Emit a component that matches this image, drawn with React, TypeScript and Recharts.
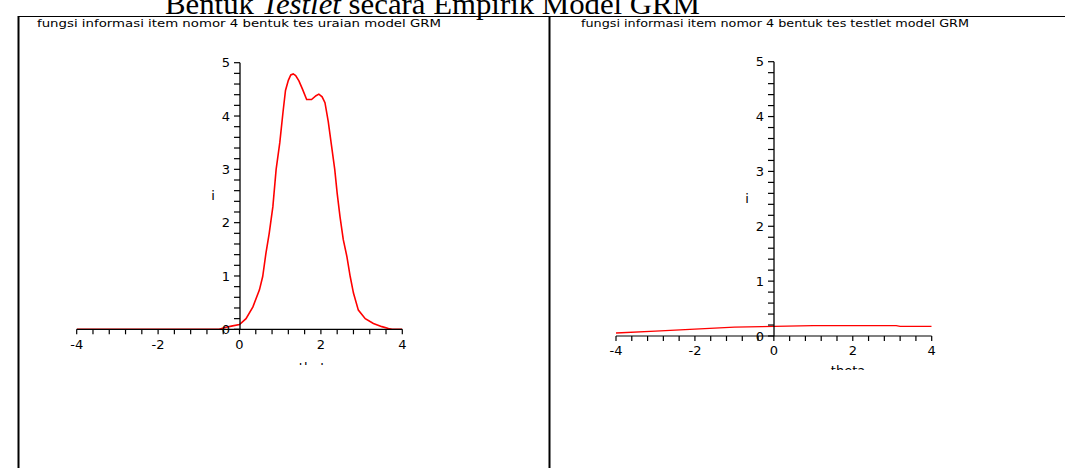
import React from 'react';
import { LineChart, Line, XAxis, YAxis } from 'recharts';

// ---- data ----
const thetaUraian = [-4, -0.5, -0.33, -0.2, 0, 0.16, 0.33, 0.49, 0.57, 0.65, 0.73, 0.82, 0.9, 0.99, 1.07, 1.13, 1.2, 1.26, 1.32, 1.38, 1.46, 1.55, 1.65, 1.77, 1.88, 1.95, 2.03, 2.1, 2.18, 2.26, 2.34, 2.4, 2.47, 2.55, 2.64, 2.72, 2.8, 2.92, 3.09, 3.29, 3.5, 3.66, 3.75, 4];
const infoUraian = [0, 0, 0.04, 0.06, 0.09, 0.2, 0.42, 0.74, 0.99, 1.43, 1.8, 2.3, 3.0, 3.5, 4.08, 4.48, 4.67, 4.77, 4.79, 4.76, 4.66, 4.5, 4.31, 4.31, 4.38, 4.41, 4.36, 4.25, 3.9, 3.45, 3.0, 2.55, 2.11, 1.68, 1.36, 0.99, 0.68, 0.36, 0.2, 0.11, 0.05, 0.015, 0, 0];

const thetaTestlet = [-4, -3, -2, -1, -0.3, 0, 1, 2, 3.1, 3.2, 4];
const infoTestlet = [0.055, 0.09, 0.125, 0.16, 0.17, 0.175, 0.19, 0.19, 0.19, 0.175, 0.175];

const xTicks = [-4, -3.6, -3.2, -2.8, -2.4, -2, -1.6, -1.2, -0.8, -0.4, 0, 0.4, 0.8, 1.2, 1.6, 2, 2.4, 2.8, 3.2, 3.6, 4];
const yTicks = [0, 0.2, 0.4, 0.6, 0.8, 1, 1.2, 1.4, 1.6, 1.8, 2, 2.2, 2.4, 2.6, 2.8, 3, 3.2, 3.4, 3.6, 3.8, 4, 4.2, 4.4, 4.6, 4.8, 5];
const xTickLabels = [-4, -2, 0, 2, 4];
const yTickLabels = [0, 1, 2, 3, 4, 5];

const pageTitleParts = ['Bentuk ', 'Testlet', ' secara Empirik Model GRM'];
const panelTitles = [
  'fungsi informasi item nomor 4 bentuk tes uraian model GRM',
  'fungsi informasi item nomor 4 bentuk tes testlet model GRM',
];
const xAxisLabel = 'theta';
const yAxisLabel = 'i';

const toRows = (xs: number[], ys: number[]) => xs.map((x, i) => ({ theta: x, info: ys[i] }));

const FONT = '"DejaVu Sans", Verdana, sans-serif';

const fmtX = (v: number) => (xTickLabels.some((t) => Math.abs(t - v) < 1e-6) ? String(Math.round(v)) : '');
const fmtY = (v: number) => (yTickLabels.some((t) => Math.abs(t - v) < 1e-6) ? String(Math.round(v)) : '');

type PanelProps = {
  svgLeft: number;
  width: number;
  height: number;
  plotLeft: number;
  plotRight: number;
  plotTop: number;
  plotBottom: number;
  rows: { theta: number; info: number }[];
  labelBaseline: number;
  lineWidth: number;
};

const X_AXIS_H = 30;
const Y_AXIS_W = 40;

function Panel(p: PanelProps) {
  const mLeft = p.plotLeft - p.svgLeft;
  const mRight = p.svgLeft + p.width - p.plotRight;
  const mBottom = p.height - p.plotBottom - X_AXIS_H;
  const zeroX = (p.plotLeft + p.plotRight) / 2;
  return (
    <>
      <div style={{ position: 'absolute', left: p.svgLeft, top: 0 }}>
        <LineChart
          width={p.width}
          height={p.height}
          data={p.rows}
          margin={{ left: mLeft, right: mRight, top: p.plotTop, bottom: mBottom }}
        >
          <XAxis
            dataKey="theta"
            type="number"
            domain={[-4, 4]}
            ticks={xTicks}
            interval={0}
            tickFormatter={fmtX}
            tickSize={5}
            tickMargin={5}
            height={X_AXIS_H}
            axisLine={{ stroke: '#000', strokeWidth: 1.2 }}
            tickLine={{ stroke: '#000', strokeWidth: 1.2 }}
            tick={{ fill: '#000', fontSize: 13, fontFamily: FONT }}
            allowDataOverflow
            label={(props: any) => {
              const vb = props.viewBox || {};
              return (
                <text
                  x={(vb.x ?? 0) + (vb.width ?? 0) * 0.735}
                  y={p.labelBaseline}
                  textAnchor="middle"
                  fontSize={13}
                  fontFamily={FONT}
                  fill="#000"
                >
                  {xAxisLabel}
                </text>
              );
            }}
          />
          <YAxis hide domain={[0, 5]} type="number" allowDataOverflow />
          <Line
            type="linear"
            dataKey="info"
            stroke="#ff0000"
            strokeWidth={p.lineWidth}
            dot={false}
            activeDot={false}
            isAnimationActive={false}
          />
        </LineChart>
      </div>
      <div style={{ position: 'absolute', left: zeroX - Y_AXIS_W, top: 0 }}>
        <LineChart
          width={Y_AXIS_W + 2}
          height={p.height}
          data={p.rows}
          margin={{ left: 0, right: 2, top: p.plotTop, bottom: p.height - p.plotBottom }}
        >
          <XAxis dataKey="theta" type="number" domain={[-4, 4]} hide />
          <YAxis
            type="number"
            domain={[0, 5]}
            ticks={yTicks}
            interval={0}
            tickFormatter={fmtY}
            width={Y_AXIS_W}
            tickSize={6}
            tickMargin={4}
            axisLine={{ stroke: '#000', strokeWidth: 1.3 }}
            tickLine={{ stroke: '#000', strokeWidth: 1.2 }}
            tick={{ fill: '#000', fontSize: 13, fontFamily: FONT }}
            allowDataOverflow
            label={(props: any) => {
              const vb = props.viewBox || {};
              return (
                <text
                  x={(vb.x ?? 0) + (vb.width ?? 0) - 27}
                  y={(vb.y ?? 0) + (vb.height ?? 0) / 2 + 4}
                  textAnchor="middle"
                  fontSize={13}
                  fontFamily={FONT}
                  fill="#000"
                >
                  {yAxisLabel}
                </text>
              );
            }}
          />
        </LineChart>
      </div>
    </>
  );
}

export default function App() {
  return (
    <div style={{ position: 'absolute', left: 0, top: 0, width: 1065, height: 468, background: '#fff', overflow: 'hidden' }}>
      <svg width={1065} height={468} style={{ position: 'absolute', left: 0, top: 0 }}>
        <text
          x={165}
          y={14}
          fontSize={30}
          textLength={535}
          lengthAdjust="spacingAndGlyphs"
          fontFamily='"Liberation Serif", "Times New Roman", serif'
          fill="#000"
        >
          {pageTitleParts[0]}
          <tspan fontStyle="italic">{pageTitleParts[1]}</tspan>
          {pageTitleParts[2]}
        </text>
        <line x1={18} y1={16.5} x2={1065} y2={16.5} stroke="#000" strokeWidth={1} />
        <line x1={18.5} y1={16} x2={18.5} y2={468} stroke="#000" strokeWidth={2} />
        <line x1={549.5} y1={16} x2={549.5} y2={468} stroke="#000" strokeWidth={2} />
        <text
          x={37}
          y={27}
          fontSize={10.5}
          textLength={404}
          lengthAdjust="spacingAndGlyphs"
          fontFamily={FONT}
          fill="#000"
        >
          {panelTitles[0]}
        </text>
        <text
          x={581}
          y={27}
          fontSize={10.5}
          textLength={388}
          lengthAdjust="spacingAndGlyphs"
          fontFamily={FONT}
          fill="#000"
        >
          {panelTitles[1]}
        </text>
      </svg>
      <Panel
        svgLeft={0}
        width={549}
        height={365}
        plotLeft={76.7}
        plotRight={402.3}
        plotTop={62.7}
        plotBottom={329.3}
        rows={toRows(thetaUraian, infoUraian)}
        labelBaseline={372}
        lineWidth={1.6}
      />
      <Panel
        svgLeft={551}
        width={514}
        height={370}
        plotLeft={616}
        plotRight={931.7}
        plotTop={61.7}
        plotBottom={336}
        rows={toRows(thetaTestlet, infoTestlet)}
        labelBaseline={375}
        lineWidth={1.3}
      />
    </div>
  );
}
